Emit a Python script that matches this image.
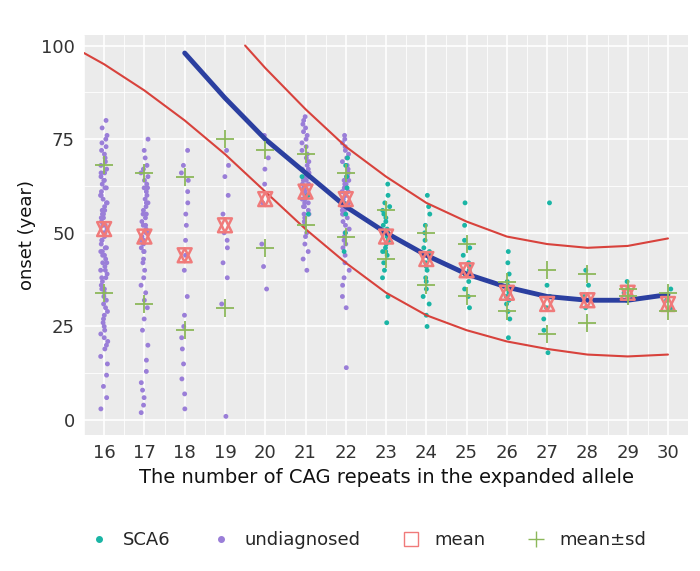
import numpy as np, pandas as pd, seaborn as sns, matplotlib
matplotlib.use("Agg")
import matplotlib.pyplot as plt
from matplotlib.lines import Line2D

cag = list(range(16, 31))
und = {
 16: [3,6,9,12,15,17,19,20,21,22,23,24,25,26,27,28,29,30,31,32,33,34,35,36,37,38,39,40,41,42,43,44,45,46,47,48,49,50,51,52,53,54,55,56,57,58,59,60,61,62,63,64,65,66,67,68,69,70,71,72,73,74,75,76,78,80,45,50,55,40,35,60,52,48,44,46,54,56,62,58,38,42,64,66],
 17: [2,4,6,8,10,13,16,20,24,27,30,32,34,36,38,40,42,43,45,46,47,48,49,50,51,52,53,54,55,56,57,58,59,60,61,62,63,64,65,66,67,68,70,72,75,50,55,45,52,58,62,48],
 18: [3,7,11,15,19,22,25,28,33,40,44,48,52,55,58,61,64,66,68,72],
 19: [1,31,38,42,46,48,50,55,60,65,68,72],
 20: [35,41,47,58,63,67,70,76],
 21: [40,43,45,47,49,50,52,53,54,55,56,57,58,59,60,61,62,63,64,65,66,67,68,69,70,71,72,73,74,75,76,77,78,79,80,81,60,62,58,64,66,55,61,63,57,59,65,67],
 22: [14,30,33,36,38,40,42,44,46,47,48,49,50,51,52,53,54,55,56,57,58,59,60,61,62,63,64,65,66,67,68,69,70,71,72,73,74,75,76,60,58,62,56,64,57,59,61,63,55,65],
}
sca6 = {
 21: [55,60,65],
 22: [45,50,55,58,62,65,68,70],
 23: [26,33,38,40,42,44,45,46,47,48,49,50,51,52,53,54,55,56,57,58,60,63,48,50,45],
 24: [25,28,31,33,35,37,38,40,41,42,43,44,45,46,48,50,52,55,57,60],
 25: [30,33,35,37,39,40,41,42,44,46,48,52,58],
 26: [22,27,29,31,32,33,34,35,36,37,39,42,45],
 27: [18,24,27,30,33,36,58],
 28: [30,33,36,40],
 29: [32,34,37],
 30: [30,32,35],
}
mean = [51,49,44,52,59,61,59,49,43,40,34,31,32,34,31]
sd_hi = [68,66,65,75,72,71,66,56,50,47,37,40,39,35,34]
sd_lo = [34,31,24,30,46,52,49,43,36,33,29,23,26,33,29]
blue_x = [18,18.5,19,19.5,20,21,22,23,24,25,26,27,28,29,30]
blue_y = [98,92,86,80.5,75,66,57,50,44,39,35.5,33,32,32,33.5]
up_x = [19.5,20,20.5,21,22,23,24,25,26,27,28,29,30]
up_y = [100,94,88.5,83,73,65,58,53,49,47,46,46.5,48.5]
lo_x = [15.5,16,17,18,19,20,21,22,23,24,25,26,27,28,29,30]
lo_y = [98,95,88,80,71,61,51,42,34,28,24,21,19,17.5,17,17.5]

rows = [(k, v, "undiagnosed") for k, vs in und.items() for v in vs] + \
       [(k, v, "SCA6") for k, vs in sca6.items() for v in vs]
df = pd.DataFrame(rows, columns=["cag", "onset", "group"])

sns.set_theme(style="darkgrid", rc={"axes.facecolor": "#EBEBEB", "grid.color": "white"})
fig = plt.figure(figsize=(7, 5.71), dpi=100)
ax = fig.add_axes([0.12, 0.238, 0.863, 0.70])
pal = {"SCA6": "#1ab5a5", "undiagnosed": "#9a7ed8"}
sns.stripplot(data=df, x="cag", y="onset", hue="group", palette=pal, native_scale=True,
              jitter=0.09, size=3.5, linewidth=0, ax=ax, legend=False, zorder=2)
sns.lineplot(x=lo_x, y=lo_y, color="#d8423c", lw=1.5, ax=ax, zorder=3)
sns.lineplot(x=up_x, y=up_y, color="#d8423c", lw=1.5, ax=ax, zorder=3)
sns.lineplot(x=blue_x, y=blue_y, color="#2b3fa0", lw=3.5, ax=ax, zorder=4)
mc = "#f07a7a"
ax.scatter(cag, mean, marker="^", s=100, facecolors="none", edgecolors=mc, linewidths=1.8, zorder=5)
ax.scatter(cag, mean, marker="v", s=100, facecolors="none", edgecolors=mc, linewidths=1.8, zorder=5)
gc = "#8cb85a"
ax.scatter(cag, sd_hi, marker="+", s=180, color=gc, linewidths=1.3, zorder=5)
ax.scatter(cag, sd_lo, marker="+", s=180, color=gc, linewidths=1.3, zorder=5)

ax.set_xlim(15.5, 30.5)
ax.set_ylim(-4, 102.7)
ax.set_xticks(cag)
ax.set_yticks([0, 25, 50, 75, 100])
ax.set_xticks(np.arange(15.5, 30.6, 1), minor=True)
ax.set_yticks([12.5, 37.5, 62.5, 87.5], minor=True)
ax.grid(which="minor", color="white", lw=0.6)
ax.grid(which="major", color="white", lw=1.2)
ax.tick_params(which="both", length=3, color="#555555")
ax.tick_params(axis="both", labelsize=13, labelcolor="#333333")
ax.set_xlabel("The number of CAG repeats in the expanded allele", fontsize=14, color="#111111")
ax.set_ylabel("onset (year)", fontsize=13, color="#111111")
for s in ax.spines.values():
    s.set_visible(False)

handles = [
    Line2D([], [], marker="o", ls="", color=pal["SCA6"], markersize=4, label="SCA6"),
    Line2D([], [], marker="o", ls="", color=pal["undiagnosed"], markersize=4, label="undiagnosed"),
    Line2D([], [], marker="s", ls="", markerfacecolor="none", markeredgecolor=mc, markersize=10, label="mean"),
    Line2D([], [], marker="+", ls="", color=gc, markersize=12, label="mean±sd"),
]
fig.legend(handles=handles, loc="lower center", bbox_to_anchor=(0.52, 0.01), ncol=4, frameon=False,
           fontsize=13, handletextpad=0.3, columnspacing=1.8)
fig.savefig("out.png", dpi=100)
